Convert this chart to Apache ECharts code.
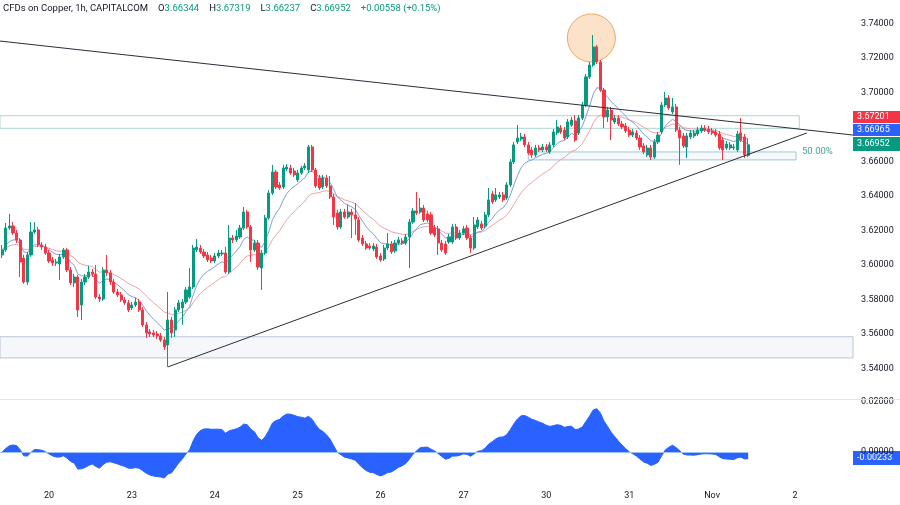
<!DOCTYPE html>
<html><head><meta charset="utf-8">
<script src="https://cdn.jsdelivr.net/npm/echarts@6/dist/echarts.min.js"></script>
<style>html,body{margin:0;padding:0;background:#fff}#c{width:900px;height:505px}</style>
</head><body><div id="c"></div>
<script>
// ---- data (hourly candles, index 0..207) ----
const opens = [3.6057,3.6086,3.6213,3.6225,3.6184,3.6144,3.6039,3.5900,3.6057,3.6190,3.6202,3.6115,3.6103,3.6068,3.6028,3.6010,3.6005,3.6045,3.6086,3.5970,
3.5895,3.5929,3.5767,3.5900,3.5929,3.5958,3.5947,3.5813,3.5802,3.5970,3.5953,3.5900,3.5842,3.5825,3.5796,3.5779,3.5750,3.5767,3.5784,3.5738,
3.5651,3.5611,3.5605,3.5599,3.5587,3.5564,3.5535,3.5680,3.5622,3.5738,3.5750,3.5784,3.5813,3.5871,3.6086,3.6097,3.6074,3.6057,3.6039,3.6022,
3.6051,3.6063,3.6068,3.5958,3.6155,3.6144,3.6161,3.6213,3.6306,3.6219,3.6086,3.6126,3.5981,3.6068,3.6271,3.6416,3.6538,3.6463,3.6451,3.6555,
3.6561,3.6544,3.6492,3.6532,3.6561,3.6550,3.6683,3.6550,3.6503,3.6451,3.6503,3.6457,3.6393,3.6300,3.6219,3.6306,3.6277,3.6306,3.6289,3.6260,
3.6155,3.6121,3.6109,3.6092,3.6103,3.6051,3.6034,3.6097,3.6121,3.6080,3.6126,3.6138,3.6126,3.6161,3.6248,3.6312,3.6306,3.6329,3.6295,3.6289,
3.6213,3.6208,3.6126,3.6121,3.6132,3.6132,3.6219,3.6155,3.6184,3.6213,3.6155,3.6097,3.6219,3.6237,3.6225,3.6289,3.6410,3.6376,3.6393,3.6405,
3.6387,3.6463,3.6596,3.6712,3.6729,3.6741,3.6695,3.6666,3.6637,3.6677,3.6666,3.6683,3.6654,3.6695,3.6764,3.6793,3.6781,3.6741,3.6810,3.6834,
3.6764,3.6851,3.6926,3.7089,3.7158,3.7263,3.7176,3.7013,3.6857,3.6897,3.6828,3.6851,3.6816,3.6805,3.6781,3.6752,3.6764,3.6735,3.6689,3.6637,
3.6677,3.6625,3.6712,3.6770,3.6926,3.6967,3.6886,3.6915,3.6781,3.6747,3.6683,3.6741,3.6747,3.6758,3.6776,3.6793,3.6787,3.6776,3.6770,3.6758,
3.6723,3.6677,3.6677,3.6677,3.6666,3.6764,3.6741,3.66344];
const closes = [3.6086,3.6213,3.6225,3.6184,3.6144,3.6016,3.5900,3.6057,3.6190,3.6202,3.6115,3.6103,3.6068,3.6022,3.6010,3.6016,3.6045,3.6086,3.5970,3.5895,
3.5929,3.5738,3.5900,3.5929,3.5958,3.5947,3.5813,3.5802,3.5970,3.5953,3.5900,3.5842,3.5825,3.5796,3.5779,3.5738,3.5767,3.5784,3.5738,3.5651,
3.5605,3.5599,3.5593,3.5587,3.5564,3.5524,3.5680,3.5605,3.5738,3.5779,3.5784,3.5854,3.5871,3.6097,3.6103,3.6074,3.6051,3.6028,3.6022,3.6051,
3.6068,3.6068,3.5958,3.6155,3.6144,3.6167,3.6213,3.6306,3.6219,3.6086,3.6126,3.5987,3.6068,3.6271,3.6416,3.6538,3.6451,3.6445,3.6561,3.6567,
3.6532,3.6521,3.6532,3.6561,3.6573,3.6683,3.6550,3.6457,3.6445,3.6503,3.6457,3.6393,3.6277,3.6219,3.6306,3.6277,3.6306,3.6289,3.6266,3.6144,
3.6121,3.6097,3.6097,3.6109,3.6045,3.6028,3.6097,3.6121,3.6074,3.6126,3.6144,3.6126,3.6161,3.6248,3.6312,3.6300,3.6329,3.6260,3.6260,3.6184,
3.6173,3.6126,3.6086,3.6068,3.6161,3.6219,3.6155,3.6184,3.6208,3.6155,3.6097,3.6231,3.6260,3.6213,3.6289,3.6376,3.6364,3.6405,3.6405,3.6376,
3.6463,3.6596,3.6695,3.6735,3.6741,3.6695,3.6648,3.6637,3.6677,3.6666,3.6683,3.6666,3.6695,3.6770,3.6799,3.6770,3.6735,3.6828,3.6839,3.6723,
3.6851,3.6926,3.7089,3.7158,3.7263,3.7176,3.7013,3.6857,3.6897,3.6839,3.6851,3.6816,3.6799,3.6776,3.6752,3.6770,3.6735,3.6683,3.6654,3.6677,
3.6625,3.6712,3.6752,3.6926,3.6967,3.6909,3.6915,3.6781,3.6735,3.6689,3.6747,3.6764,3.6764,3.6781,3.6793,3.6781,3.6770,3.6764,3.6752,3.6677,
3.6666,3.6700,3.6695,3.6683,3.6758,3.6723,3.66394,3.66952];
const highs = [3.6115,3.6242,3.6295,3.6248,3.6202,3.6155,3.6057,3.6074,3.6248,3.6248,3.6219,3.6132,3.6121,3.6086,3.6045,3.6034,3.6063,3.6097,3.6097,3.5987,
3.5947,3.5941,3.5918,3.5947,3.5993,3.5976,3.5999,3.5831,3.5987,3.6057,3.5970,3.5918,3.5860,3.5842,3.5813,3.5796,3.5784,3.5808,3.5802,3.5755,
3.5668,3.5628,3.5622,3.5616,3.5605,3.5581,3.5842,3.5697,3.5755,3.5796,3.5802,3.5871,3.5981,3.6115,3.6150,3.6115,3.6092,3.6074,3.6057,3.6068,
3.6086,3.6086,3.6103,3.6231,3.6173,3.6202,3.6231,3.6335,3.6318,3.6231,3.6144,3.6144,3.6086,3.6289,3.6434,3.6579,3.6550,3.6480,3.6579,3.6584,
3.6579,3.6561,3.6550,3.6573,3.6590,3.6695,3.6695,3.6561,3.6521,3.6521,3.6521,3.6515,3.6410,3.6318,3.6324,3.6324,3.6347,3.6324,3.6358,3.6277,
3.6173,3.6138,3.6126,3.6126,3.6121,3.6068,3.6115,3.6184,3.6138,3.6144,3.6161,3.6155,3.6179,3.6266,3.6329,3.6422,3.6387,3.6347,3.6312,3.6306,
3.6231,3.6225,3.6144,3.6138,3.6179,3.6237,3.6237,3.6202,3.6225,3.6231,3.6173,3.6277,3.6277,3.6254,3.6306,3.6445,3.6428,3.6445,3.6422,3.6422,
3.6480,3.6613,3.6712,3.6810,3.6764,3.6758,3.6712,3.6683,3.6695,3.6695,3.6700,3.6700,3.6712,3.6787,3.6839,3.6810,3.6799,3.6845,3.6857,3.6868,
3.6868,3.6944,3.7106,3.7176,3.7332,3.7274,3.7187,3.7025,3.6915,3.6915,3.6868,3.6868,3.6834,3.6822,3.6799,3.6787,3.6781,3.6752,3.6706,3.6695,
3.6695,3.6729,3.6770,3.6944,3.7002,3.6984,3.6967,3.6932,3.6799,3.6764,3.6764,3.6781,3.6781,3.6799,3.6810,3.6810,3.6805,3.6793,3.6787,3.6776,
3.6741,3.6718,3.6712,3.6700,3.6776,3.6851,3.6758,3.67319];
const lows = [3.6039,3.6074,3.6202,3.6173,3.6126,3.5929,3.5889,3.5883,3.6045,3.6179,3.6103,3.6086,3.6057,3.6010,3.5993,3.5993,3.5912,3.6034,3.5958,3.5883,
3.5871,3.5697,3.5680,3.5883,3.5918,3.5929,3.5802,3.5784,3.5790,3.5935,3.5883,3.5831,3.5813,3.5784,3.5767,3.5726,3.5738,3.5755,3.5726,3.5639,
3.5576,3.5581,3.5581,3.5570,3.5553,3.5506,3.5408,3.5576,3.5581,3.5726,3.5651,3.5773,3.5802,3.5860,3.6074,3.6063,3.6039,3.6016,3.6010,3.6010,
3.6039,3.6051,3.5947,3.5947,3.6126,3.6132,3.6150,3.6202,3.6208,3.6016,3.6074,3.5970,3.5854,3.6057,3.6260,3.6405,3.6439,3.6434,3.6439,3.6544,
3.6521,3.6509,3.6480,3.6521,3.6550,3.6532,3.6538,3.6445,3.6434,3.6439,3.6445,3.6381,3.6231,3.6202,3.6208,3.6266,3.6266,3.6155,3.6173,3.6132,
3.6109,3.6086,3.6086,3.6080,3.6034,3.6016,3.6022,3.6086,3.6063,3.6068,3.6115,3.6115,3.6115,3.5981,3.6237,3.6289,3.6295,3.6248,3.6248,3.6173,
3.6161,3.6057,3.6074,3.6057,3.6121,3.6121,3.6144,3.6144,3.6173,3.6144,3.6068,3.6086,3.6208,3.6202,3.6213,3.6277,3.6352,3.6364,3.6381,3.6364,
3.6376,3.6451,3.6584,3.6700,3.6718,3.6683,3.6637,3.6619,3.6625,3.6654,3.6654,3.6654,3.6642,3.6683,3.6752,3.6758,3.6723,3.6729,3.6799,3.6712,
3.6752,3.6839,3.6915,3.7077,3.7147,3.7164,3.7002,3.6793,3.6828,3.6723,3.6816,3.6805,3.6787,3.6764,3.6741,3.6741,3.6723,3.6666,3.6642,3.6625,
3.6608,3.6613,3.6700,3.6758,3.6915,3.6897,3.6874,3.6770,3.6579,3.6677,3.6619,3.6729,3.6735,3.6747,3.6764,3.6770,3.6758,3.6752,3.6741,3.6666,
3.6608,3.6666,3.6666,3.6666,3.6654,3.6712,3.6619,3.66237];

const dayTicks = [13, 36, 59, 82, 105, 128, 151, 174, 197, 220];
const dayLabels = ['20', '23', '24', '25', '26', '27', '30', '31', 'Nov', '2'];
const priceTicks = [3.54, 3.56, 3.58, 3.60, 3.62, 3.64, 3.66, 3.70, 3.72, 3.74];
const oscTicks = [0.02, 0];
const tagValues = ['3.67201', '3.66965', '3.66952'];
const oscTagValue = '-0.00233';
const changeText = '+0.00558 (+0.15%)';
const fastPeriod = 9, slowPeriod = 21;

// annotations in data units (candle index, price)
const resistanceLine = [[-0.6, 3.7297], [236.1, 3.6752]];
const supportLine = [[46.0, 3.5408], [223.3, 3.6764]];
const highlight = [163.5, 3.7315];
const upperZone = [[-0.6, 3.6864], [221.2, 3.6791]];
const fibZone = [[146.0, 3.6654], [220.3, 3.6608]];
const lowerZone = [[-0.6, 3.5583], [236.1, 3.5460]];

function ema(vals, n) {
  const a = 2 / (n + 1); const out = []; let e = vals[0];
  for (let i = 0; i < vals.length; i++) { if (i > 0) e = e + a * (vals[i] - e); out.push(e); }
  return out;
}
const fast = ema(closes, fastPeriod), slow = ema(closes, slowPeriod);
const candleData = closes.map((c, i) => [i, opens[i], c, lows[i], highs[i]]);
const fastData = fast.map((v, i) => [i, v]);
const slowData = slow.map((v, i) => [i, v]);
const oscData = fast.map((v, i) => [i, v - slow[i]]);
const last = closes.length - 1;

const FONT = 'Roboto, "Noto Sans", sans-serif';
const TXT = '#131722';
const XMIN = -0.6, XMAX = 236.1;

const chart = echarts.init(document.getElementById('c'), null, { renderer: 'canvas', width: 900, height: 505 });
const f5 = v => Number(v).toFixed(5);

const tagBox = (y, h, color, text) => ({
  type: 'group', left: 853, top: y, children: [
    { type: 'rect', shape: { x: 0, y: 0, width: 47, height: h }, style: { fill: color } },
    { type: 'text', x: 4, y: h / 2, style: { text: text, fill: '#fff', font: '9px ' + FONT, textVerticalAlign: 'middle' } }
  ]
});

chart.setOption({
  animation: false,
  backgroundColor: '#ffffff',
  textStyle: { fontFamily: FONT },
  grid: [
    { left: 0, top: 0, width: 853, height: 400 },
    { left: 0, top: 400, width: 853, height: 88 }
  ],
  xAxis: [
    { gridIndex: 0, type: 'value', min: XMIN, max: XMAX, show: false },
    { gridIndex: 1, type: 'value', min: XMIN, max: XMAX,
      axisLine: { show: false }, axisTick: { show: false }, splitLine: { show: false },
      axisLabel: { customValues: dayTicks, formatter: v => dayLabels[dayTicks.indexOf(v)] ?? '',
        color: TXT, fontSize: 9, margin: 3, fontFamily: FONT } }
  ],
  yAxis: [
    { gridIndex: 0, type: 'value', position: 'right', min: 3.5216, max: 3.7535,
      axisLine: { show: false }, axisTick: { show: false }, splitLine: { show: false },
      axisLabel: { customValues: priceTicks, formatter: f5, color: TXT, fontSize: 9, margin: 8, fontFamily: FONT } },
    { gridIndex: 1, type: 'value', position: 'right', min: -0.0144, max: 0.0208,
      axisLine: { show: false }, axisTick: { show: false }, splitLine: { show: false },
      axisLabel: { customValues: oscTicks, formatter: f5, color: TXT, fontSize: 9, margin: 8, fontFamily: FONT } }
  ],
  series: [
    { type: 'line', xAxisIndex: 0, yAxisIndex: 0, data: slowData, showSymbol: false, z: 3,
      lineStyle: { color: '#eba3a6', width: 1 } },
    { type: 'line', xAxisIndex: 0, yAxisIndex: 0, data: fastData, showSymbol: false, z: 3,
      lineStyle: { color: '#7f9fd8', width: 1 } },
    { type: 'scatter', xAxisIndex: 0, yAxisIndex: 0, data: [highlight], symbolSize: 48, z: 1,
      itemStyle: { color: 'rgba(250,180,115,0.38)', borderColor: '#eea862', borderWidth: 1, opacity: 1 } },
    { type: 'candlestick', xAxisIndex: 0, yAxisIndex: 0, data: candleData,
      encode: { x: 0, y: [1, 2, 3, 4] }, barWidth: 2.6, z: 5,
      itemStyle: { color: '#089981', color0: '#f23645', borderColor: '#089981', borderColor0: '#f23645', borderWidth: 1 },
      markArea: { silent: true, z: 1, data: [
        [{ coord: upperZone[0], itemStyle: { color: 'rgba(255,255,255,0)', borderColor: '#a9d8d2', borderWidth: 1 } }, { coord: upperZone[1] }],
        [{ coord: fibZone[0], itemStyle: { color: 'rgba(214,232,240,0.25)', borderColor: '#9fc8d5', borderWidth: 1 } }, { coord: fibZone[1] }],
        [{ coord: lowerZone[0], itemStyle: { color: 'rgba(241,244,250,0.7)', borderColor: '#bcc6d6', borderWidth: 1 } }, { coord: lowerZone[1] }]
      ] } },
    { type: 'line', xAxisIndex: 0, yAxisIndex: 0, data: resistanceLine, showSymbol: false, z: 6,
      lineStyle: { color: '#2a2e39', width: 1 } },
    { type: 'line', xAxisIndex: 0, yAxisIndex: 0, data: supportLine, showSymbol: false, z: 6,
      lineStyle: { color: '#2a2e39', width: 1 } },
    { type: 'line', xAxisIndex: 1, yAxisIndex: 1, data: oscData, showSymbol: false, z: 3,
      lineStyle: { color: '#2962ff', width: 1 }, areaStyle: { color: '#2962ff', opacity: 1 },
      markLine: { silent: true, symbol: 'none', label: { show: false }, z: 4,
        lineStyle: { color: '#9cc0f8', width: 1, type: 'solid' },
        data: [[{ coord: [XMIN, 0] }, { coord: [last, 0] }]] } }
  ],
  graphic: [
    { type: 'line', shape: { x1: 0, y1: 399.5, x2: 900, y2: 399.5 }, style: { stroke: '#e0e3eb', lineWidth: 1 }, z: 10 },
    { type: 'text', left: 3, top: 3, z: 10, style: {
      text: '{t|CFDs on Copper, 1h, CAPITALCOM}   {k|O}{v|' + f5(opens[last]) + '}   {k|H}{v|' + f5(highs[last]) +
            '}   {k|L}{v|' + f5(lows[last]) + '}   {k|C}{v|' + f5(closes[last]) + '}   {v|' + changeText + '}',
      rich: {
        t: { fill: TXT, fontSize: 9.5, fontFamily: FONT },
        k: { fill: TXT, fontSize: 9.5, fontFamily: FONT },
        v: { fill: '#089981', fontSize: 9.5, fontFamily: FONT }
      } } },
    { type: 'text', left: 802, top: 147, z: 10, style: { text: '50.00%', fill: '#3ea596', font: '9.5px ' + FONT } },
    tagBox(111, 12, '#f23645', tagValues[0]),
    tagBox(124, 12, '#2962ff', tagValues[1]),
    tagBox(137, 14, '#089981', tagValues[2]),
    tagBox(451, 14, '#2962ff', oscTagValue)
  ]
});
</script>
</body></html>
